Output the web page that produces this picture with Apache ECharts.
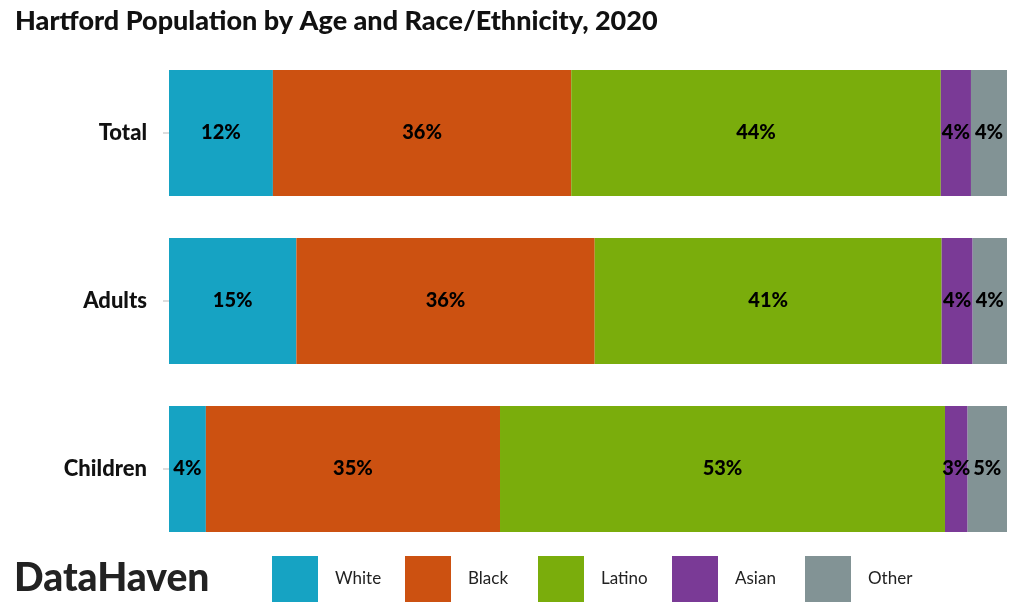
<!DOCTYPE html>
<html><head><meta charset="utf-8">
<script src="https://cdn.jsdelivr.net/npm/echarts@6/dist/echarts.min.js"></script>
<style>html,body{margin:0;padding:0;background:#fff}#c{width:1024px;height:614px}</style>
</head><body><div id="c"></div>
<script>
var categories = ['Total', 'Adults', 'Children'];
var groups = ['White', 'Black', 'Latino', 'Asian', 'Other'];
var white  = [12.4, 15.2, 4.4];
var black  = [35.6, 35.6, 35.1];
var latino = [44.1, 41.4, 53.1];
var asian  = [3.6, 3.7, 2.7];
var other  = [4.3, 4.1, 4.7];
var values = [white, black, latino, asian, other];
var colors = ['#16a3c3', '#cc5111', '#7aad0c', '#7a3a96', '#829395'];
var legendLeft = [267, 400, 533, 667, 800];

var FONT = 'Lato';
var chart = echarts.init(document.getElementById('c'));
var series = groups.map(function (g, i) {
  return {
    name: g, type: 'bar', stack: 'all', barWidth: '75%',
    data: values[i],
    itemStyle: { color: colors[i] },
    label: {
      show: true, position: 'inside', color: '#000', fontFamily: FONT,
      fontWeight: 900, fontSize: 20,
      formatter: function (p) { return Math.round(p.value) + '%'; }
    }
  };
});
var legends = groups.map(function (g, i) {
  return {
    data: [g], left: legendLeft[i], top: 551, itemWidth: 46, itemHeight: 46,
    icon: 'rect', selectedMode: false,
    textStyle: { fontFamily: FONT, fontSize: 17, color: '#222', padding: [0, 0, 0, 12] }
  };
});
chart.setOption({
  animation: false,
  title: {
    text: 'Hartford Population by Age and Race/Ethnicity, 2020',
    left: 10, top: 3,
    textStyle: { fontFamily: FONT, fontWeight: 900, fontSize: 27, color: '#111' }
  },
  graphic: [{
    type: 'text', left: 14, top: 559,
    style: { text: 'DataHaven', fontFamily: FONT, fontWeight: 900, fontSize: 39, fill: '#222' }
  }],
  legend: legends,
  grid: { left: 169, right: 17, top: 49, bottom: 61 },
  xAxis: { type: 'value', min: 0, max: 100, show: false },
  yAxis: {
    type: 'category', data: categories, inverse: true,
    axisLine: { show: false },
    axisTick: { show: true, length: 6, lineStyle: { color: '#ddd', width: 2 }, alignWithLabel: true },
    axisLabel: { margin: 22, fontFamily: FONT, fontWeight: 900, fontSize: 22, color: '#111' }
  },
  series: series
});
</script></body></html>
